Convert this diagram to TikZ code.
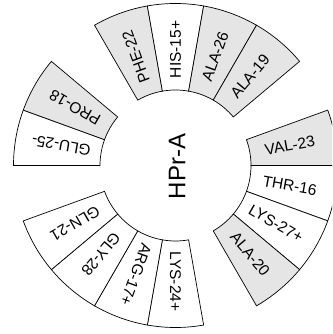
\documentclass[tikz,border=0pt]{standalone}
\usepackage{fontspec}
\setmainfont{Liberation Sans}
\usepackage{tikz}

\begin{document}
\begin{tikzpicture}[x=1pt, y=1pt,
  res/.style={draw=black, line width=0.7pt},
  hyd/.style={res, fill=gray!20},
  pol/.style={res, fill=white},
  lbl/.style={font=\fontsize{15.5}{18}\selectfont, inner sep=0pt},
  ctr/.style={font=\fontsize{24}{28}\selectfont, inner sep=0pt}]
\clip (-175.5,-168.5) rectangle (156.5,165.5);

% Sectors
% Top group
\draw[hyd] (100:75.5) -- (100:162) arc[start angle=100, end angle=120, radius=162] -- (120:75.5) arc[start angle=120, end angle=100, radius=75.5] -- cycle;
\draw[pol] (80:75.5) -- (80:162) arc[start angle=80, end angle=100, radius=162] -- (100:75.5) arc[start angle=100, end angle=80, radius=75.5] -- cycle;
\draw[hyd] (60:75.5) -- (60:162) arc[start angle=60, end angle=80, radius=162] -- (80:75.5) arc[start angle=80, end angle=60, radius=75.5] -- cycle;
\draw[hyd] (40:75.5) -- (40:162) arc[start angle=40, end angle=60, radius=162] -- (60:75.5) arc[start angle=60, end angle=40, radius=75.5] -- cycle;
% Right group
\draw[hyd] (0:75.5) -- (0:162) arc[start angle=0, end angle=20, radius=162] -- (20:75.5) arc[start angle=20, end angle=0, radius=75.5] -- cycle;
\draw[pol] (-20:75.5) -- (-20:162) arc[start angle=-20, end angle=0, radius=162] -- (0:75.5) arc[start angle=0, end angle=-20, radius=75.5] -- cycle;
\draw[pol] (-40:75.5) -- (-40:162) arc[start angle=-40, end angle=-20, radius=162] -- (-20:75.5) arc[start angle=-20, end angle=-40, radius=75.5] -- cycle;
\draw[hyd] (-60:75.5) -- (-60:162) arc[start angle=-60, end angle=-40, radius=162] -- (-40:75.5) arc[start angle=-40, end angle=-60, radius=75.5] -- cycle;
% Bottom group
\draw[pol] (-100:75.5) -- (-100:162) arc[start angle=-100, end angle=-80, radius=162] -- (-80:75.5) arc[start angle=-80, end angle=-100, radius=75.5] -- cycle;
\draw[pol] (-120:75.5) -- (-120:162) arc[start angle=-120, end angle=-100, radius=162] -- (-100:75.5) arc[start angle=-100, end angle=-120, radius=75.5] -- cycle;
\draw[pol] (-140:75.5) -- (-140:162) arc[start angle=-140, end angle=-120, radius=162] -- (-120:75.5) arc[start angle=-120, end angle=-140, radius=75.5] -- cycle;
\draw[pol] (-160:75.5) -- (-160:162) arc[start angle=-160, end angle=-140, radius=162] -- (-140:75.5) arc[start angle=-140, end angle=-160, radius=75.5] -- cycle;
% Left group
\draw[pol] (160:75.5) -- (160:162) arc[start angle=160, end angle=180, radius=162] -- (180:75.5) arc[start angle=180, end angle=160, radius=75.5] -- cycle;
\draw[hyd] (140:75.5) -- (140:162) arc[start angle=140, end angle=160, radius=162] -- (160:75.5) arc[start angle=160, end angle=140, radius=75.5] -- cycle;

% Labels
\node[ctr, rotate=90] (hpr) at (1.5,-1) {HPr-A};
\node[lbl, rotate=110] (phe22) at (110:116) {PHE-22};
\node[lbl, rotate=90] (his15) at (90:116) {HIS-15+};
\node[lbl, rotate=70] (ala26) at (70:116) {ALA-26};
\node[lbl, rotate=50] (ala19) at (50:116) {ALA-19};
\node[lbl, rotate=10] (val23) at (10:116) {VAL-23};
\node[lbl, rotate=-10] (thr16) at (-10:116) {THR-16};
\node[lbl, rotate=-30] (lys27) at (-30:116) {LYS-27+};
\node[lbl, rotate=-50] (ala20) at (-50:116) {ALA-20};
\node[lbl, rotate=-90] (lys24) at (-90:116) {LYS-24+};
\node[lbl, rotate=-110] (arg17) at (-110:116) {ARG-17+};
\node[lbl, rotate=-130] (gly28) at (-130:116) {GLY-28};
\node[lbl, rotate=-150] (gln21) at (-150:116) {GLN-21};
\node[lbl, rotate=170] (glu25) at (170:116) {GLU-25-};
\node[lbl, rotate=150] (pro18) at (150:116) {PRO-18};
\end{tikzpicture}
\end{document}
